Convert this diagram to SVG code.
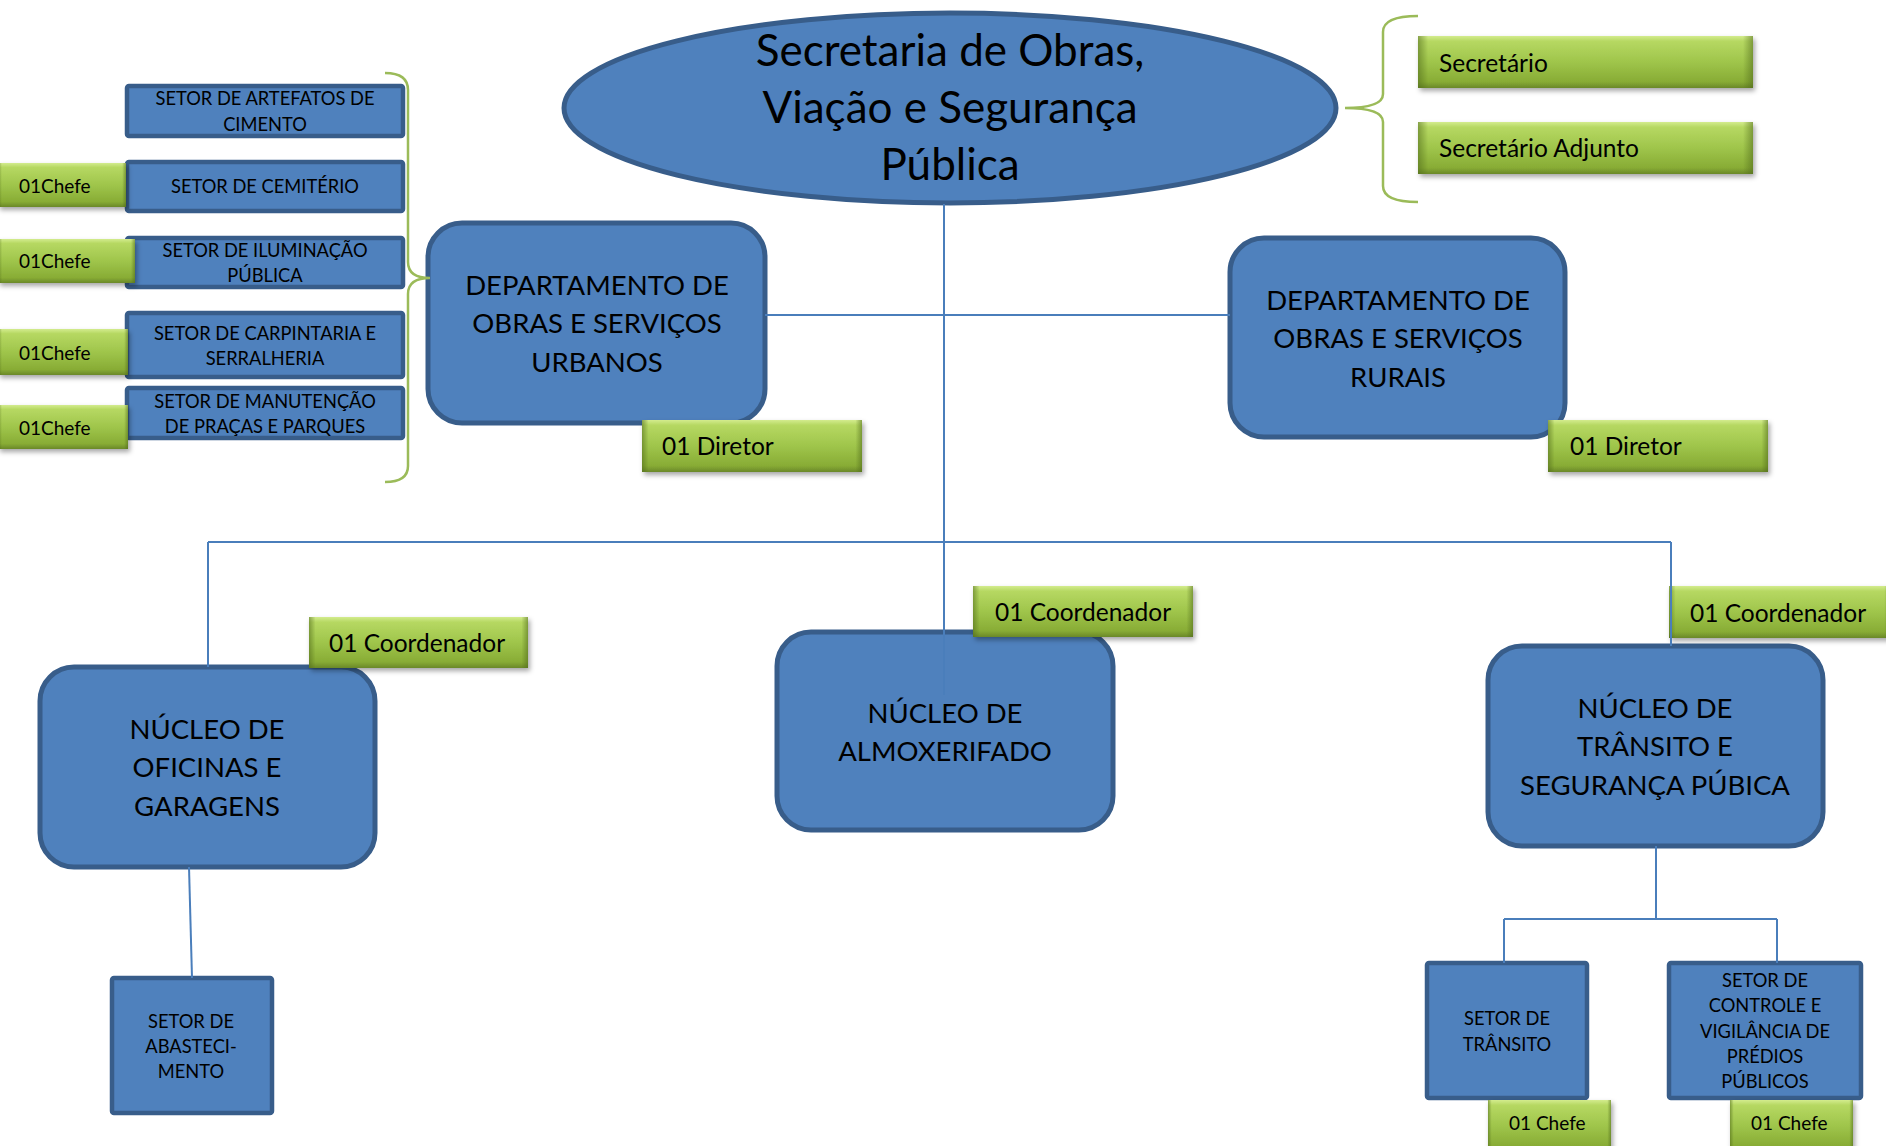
<svg xmlns="http://www.w3.org/2000/svg" width="1886" height="1146" viewBox="0 0 1886 1146">
<defs>
<linearGradient id="gG" x1="0" y1="0" x2="0" y2="1">
<stop offset="0" stop-color="#d3ec8e"/>
<stop offset="0.1" stop-color="#b6d862"/>
<stop offset="0.5" stop-color="#9fc54b"/>
<stop offset="0.88" stop-color="#88ac35"/>
<stop offset="1" stop-color="#6a8828"/>
</linearGradient>
<linearGradient id="gSide" x1="0" y1="0" x2="1" y2="0">
<stop offset="0" stop-color="#4f6a1a" stop-opacity="0.55"/>
<stop offset="0.03" stop-color="#4f6a1a" stop-opacity="0"/>
<stop offset="0.97" stop-color="#4f6a1a" stop-opacity="0"/>
<stop offset="1" stop-color="#4f6a1a" stop-opacity="0.55"/>
</linearGradient>
<filter id="sh" x="-10%" y="-20%" width="130%" height="160%">
<feDropShadow dx="2" dy="3" stdDeviation="2.5" flood-color="#000" flood-opacity="0.35"/>
</filter>
</defs>
<style>
.blue{fill:#4F81BD;stroke:#385D8A;stroke-width:5}
.sec{fill:#4F81BD;stroke:#385D8A;stroke-width:4.5}
.g{fill:url(#gG);filter:url(#sh)}
.gs{fill:url(#gSide)}
.conn{stroke:#4A7EBB;stroke-width:2;fill:none}
.brace{stroke:#9BBB59;stroke-width:2.5;fill:none}
text{font-family:Lato,'Liberation Sans',sans-serif;fill:#000}
.title{font-size:44px;text-anchor:middle}
.big{font-size:27.5px;text-anchor:middle}
.sm{font-size:18.3px;text-anchor:middle}
.gl{font-size:24.5px}
.gc{font-size:19px}
</style>

<!-- Root -->
<g id="secretaria">
<ellipse class="blue" cx="950" cy="108" rx="386" ry="95" stroke-width="4"/>
<text class="title" x="950" y="66">Secretaria de Obras,</text>
<text class="title" x="950" y="123">Viação e Segurança</text>
<text class="title" x="950" y="180">Pública</text>
</g>

<g id="dep-urbanos">
<rect class="blue" x="428" y="223" width="337" height="200" rx="34"/>
<text class="big" x="597" y="295">DEPARTAMENTO DE</text>
<text class="big" x="597" y="333">OBRAS E SERVIÇOS</text>
<text class="big" x="597" y="372">URBANOS</text>
</g>

<g id="dep-rurais">
<rect class="blue" x="1230" y="238" width="335" height="199" rx="34"/>
<text class="big" x="1398" y="310">DEPARTAMENTO DE</text>
<text class="big" x="1398" y="348">OBRAS E SERVIÇOS</text>
<text class="big" x="1398" y="387">RURAIS</text>
</g>

<g id="nucleo-oficinas">
<rect class="blue" x="40" y="667" width="335" height="200" rx="34"/>
<text class="big" x="207" y="739">NÚCLEO DE</text>
<text class="big" x="207" y="777">OFICINAS E</text>
<text class="big" x="207" y="816">GARAGENS</text>
</g>

<g id="nucleo-almox">
<rect class="blue" x="777" y="632" width="336" height="198" rx="34"/>
<text class="big" x="945" y="723">NÚCLEO DE</text>
<text class="big" x="945" y="761">ALMOXERIFADO</text>
</g>

<g id="nucleo-transito">
<rect class="blue" x="1488" y="646" width="335" height="200" rx="34"/>
<text class="big" x="1655" y="718">NÚCLEO DE</text>
<text class="big" x="1655" y="756">TRÂNSITO E</text>
<text class="big" x="1655" y="795">SEGURANÇA PÚBICA</text>
</g>

<g id="setor-artefatos">
<rect class="sec" x="127" y="86" width="276" height="50" rx="2"/>
<text class="sm" x="265" y="105">SETOR DE ARTEFATOS DE</text>
<text class="sm" x="265" y="131">CIMENTO</text>
</g>
<g id="setor-cemiterio">
<rect class="sec" x="127" y="162" width="276" height="49" rx="2"/>
<text class="sm" x="265" y="193">SETOR DE CEMITÉRIO</text>
</g>
<g id="setor-iluminacao">
<rect class="sec" x="127" y="238" width="276" height="49" rx="2"/>
<text class="sm" x="265" y="257">SETOR DE ILUMINAÇÃO</text>
<text class="sm" x="265" y="282">PÚBLICA</text>
</g>
<g id="setor-carpintaria">
<rect class="sec" x="127" y="313" width="276" height="64" rx="2"/>
<text class="sm" x="265" y="340">SETOR DE CARPINTARIA E</text>
<text class="sm" x="265" y="365">SERRALHERIA</text>
</g>
<g id="setor-manutencao">
<rect class="sec" x="127" y="388" width="276" height="50" rx="2"/>
<text class="sm" x="265" y="408">SETOR DE MANUTENÇÃO</text>
<text class="sm" x="265" y="433">DE PRAÇAS E PARQUES</text>
</g>

<g id="setor-abastecimento">
<rect class="sec" x="112" y="978" width="160" height="135" rx="2"/>
<text class="sm" x="191" y="1028">SETOR DE</text>
<text class="sm" x="191" y="1053">ABASTECI-</text>
<text class="sm" x="191" y="1078">MENTO</text>
</g>
<g id="setor-transito">
<rect class="sec" x="1427" y="963" width="160" height="135" rx="2"/>
<text class="sm" x="1507" y="1025">SETOR DE</text>
<text class="sm" x="1507" y="1051">TRÂNSITO</text>
</g>
<g id="setor-controle">
<rect class="sec" x="1669" y="963" width="192" height="135" rx="2"/>
<text class="sm" x="1765" y="987">SETOR DE</text>
<text class="sm" x="1765" y="1012">CONTROLE E</text>
<text class="sm" x="1765" y="1038">VIGILÂNCIA DE</text>
<text class="sm" x="1765" y="1063">PRÉDIOS</text>
<text class="sm" x="1765" y="1088">PÚBLICOS</text>
</g>

<!-- Green labels -->
<g id="lbl-secretario">
<rect class="g" x="1418" y="36" width="335" height="52"/><rect class="gs" x="1418" y="36" width="335" height="52"/>
<text class="gl" x="1439" y="72">Secretário</text>
</g>
<g id="lbl-adjunto">
<rect class="g" x="1418" y="122" width="335" height="52"/><rect class="gs" x="1418" y="122" width="335" height="52"/>
<text class="gl" x="1439" y="157">Secretário Adjunto</text>
</g>
<g id="lbl-diretor-urb">
<rect class="g" x="642" y="420" width="220" height="52"/><rect class="gs" x="642" y="420" width="220" height="52"/>
<text class="gl" x="662" y="455">01 Diretor</text>
</g>
<g id="lbl-diretor-rur">
<rect class="g" x="1548" y="420" width="220" height="52"/><rect class="gs" x="1548" y="420" width="220" height="52"/>
<text class="gl" x="1570" y="455">01 Diretor</text>
</g>
<g id="lbl-coord-oficinas">
<rect class="g" x="309" y="617" width="219" height="51"/><rect class="gs" x="309" y="617" width="219" height="51"/>
<text class="gl" x="329" y="652">01 Coordenador</text>
</g>
<g id="lbl-coord-almox">
<rect class="g" x="973" y="586" width="220" height="51"/><rect class="gs" x="973" y="586" width="220" height="51"/>
<text class="gl" x="995" y="621">01 Coordenador</text>
</g>
<g id="lbl-coord-transito">
<rect class="g" x="1669" y="586" width="222" height="52"/><rect class="gs" x="1669" y="586" width="222" height="52"/>
<text class="gl" x="1690" y="622">01 Coordenador</text>
</g>
<g id="lbl-chefe-cemiterio">
<rect class="g" x="-2" y="163" width="128" height="44"/><rect class="gs" x="-2" y="163" width="128" height="44"/>
<text class="gc" x="19" y="193">01Chefe</text>
</g>
<g id="lbl-chefe-iluminacao">
<rect class="g" x="-2" y="239" width="137" height="44"/><rect class="gs" x="-2" y="239" width="137" height="44"/>
<text class="gc" x="19" y="268">01Chefe</text>
</g>
<g id="lbl-chefe-carpintaria">
<rect class="g" x="-2" y="329" width="130" height="46"/><rect class="gs" x="-2" y="329" width="130" height="46"/>
<text class="gc" x="19" y="360">01Chefe</text>
</g>
<g id="lbl-chefe-manutencao">
<rect class="g" x="-2" y="405" width="130" height="44"/><rect class="gs" x="-2" y="405" width="130" height="44"/>
<text class="gc" x="19" y="435">01Chefe</text>
</g>
<g id="lbl-chefe-transito">
<rect class="g" x="1488" y="1100" width="123" height="52"/><rect class="gs" x="1488" y="1100" width="123" height="52"/>
<text class="gc" x="1509" y="1130">01 Chefe</text>
</g>
<g id="lbl-chefe-controle">
<rect class="g" x="1730" y="1100" width="123" height="52"/><rect class="gs" x="1730" y="1100" width="123" height="52"/>
<text class="gc" x="1751" y="1130">01 Chefe</text>
</g>

<!-- Connectors -->
<g id="connectors">
<path class="conn" d="M944,204 V632"/>
<path class="conn" d="M944,632 V695" stroke="#6a98d0"/>
<path class="conn" d="M765,315 H1230"/>
<path class="conn" d="M208,542 H1671"/>
<path class="conn" d="M208,542 V667"/>
<path class="conn" d="M1671,542 V646"/>
<path class="conn" d="M189,867 L192,978"/>
<path class="conn" d="M1656,846 V919 M1504,919 H1777 M1504,919 V963 M1777,919 V963"/>
<path class="brace" d="M385,73 Q408,73 408,90 L408,262 Q408,278 430,278 Q408,278 408,294 L408,466 Q408,482 385,482"/>
<path class="brace" d="M1418,16 Q1383,16 1383,32 L1383,94 Q1383,108 1345,108 Q1383,108 1383,122 L1383,186 Q1383,202 1418,202"/>
</g>
</svg>
